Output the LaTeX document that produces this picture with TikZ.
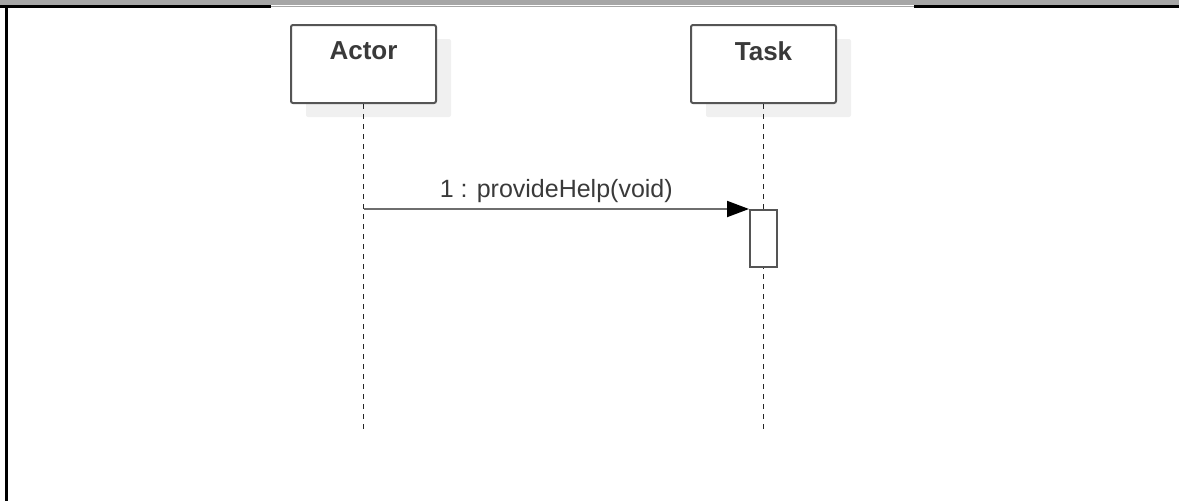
\documentclass[tikz,border=0pt]{standalone}
\usepackage{fontspec}
\setmainfont{Liberation Sans}
\usetikzlibrary{arrows.meta,shadows,calc}

\definecolor{bandgray}{HTML}{A6A6A6}
\definecolor{boxline}{HTML}{555555}
\definecolor{shadowgray}{HTML}{F0F0F0}
\definecolor{msgline}{HTML}{6E6E6E}
\definecolor{textgray}{HTML}{3A3A3A}

\begin{document}
\begin{tikzpicture}[x=1pt, y=-1pt,
  headbox/.style={draw=boxline, line width=2pt, rounded corners=2pt, fill=white,
    minimum width=145pt, minimum height=78pt, inner sep=0pt,
    drop shadow={shadow xshift=15pt, shadow yshift=-14pt, fill=shadowgray, opacity=1}},
  headtext/.style={font=\fontsize{26}{30}\selectfont\bfseries, text=textgray, inner sep=0pt},
  lifeline/.style={draw=black!85, line width=1.6pt, dash pattern=on 5pt off 5pt},
  actbox/.style={draw=boxline, line width=2pt, fill=white,
    minimum width=27pt, minimum height=57pt, inner sep=0pt},
  msg/.style={draw=msgline, line width=2pt, -{Triangle[length=22pt,width=16pt,color=black]}},
  msglabel/.style={font=\fontsize{25}{30}\selectfont, text=textgray, inner sep=0pt, anchor=base}]
\useasboundingbox (0,0) rectangle (1179,501);

% frame of the page
\fill[bandgray] (0,0) rectangle (1179,5);
\fill[black] (0,5) rectangle (271,7.5);
\fill[black] (914,5) rectangle (1179,7.5);
\draw[black!35, line width=0.8pt] (271,6) -- (914,6);
\fill[black] (5,5) rectangle (7.5,501);

% heads
\node[headbox] (actor) at (363.5,64) {};
\node[headbox] (task) at (763.5,64) {};
\node[headtext] (actorname) at ([yshift=-27pt]actor.north) {Actor};
\node[headtext] (taskname) at ([yshift=-27pt]task.north) {Task};

% lifelines
\coordinate (actorend) at (363.5,430);
\coordinate (taskend) at (763.5,430);
\draw[lifeline] (actor.south) -- (actorend);
\draw[lifeline] (task.south) -- (taskend);

% activation and call
\node[actbox] (act) at (763.5,238.5) {};
\coordinate (callstart) at (actor.south |- act.north);
\draw[msg] (callstart) -- (act.north west);
\node[msglabel] (calltext) at ([yshift=12pt]$(callstart)!0.5!(act.north west)$) {1 : provideHelp(void)};
\end{tikzpicture}
\end{document}
